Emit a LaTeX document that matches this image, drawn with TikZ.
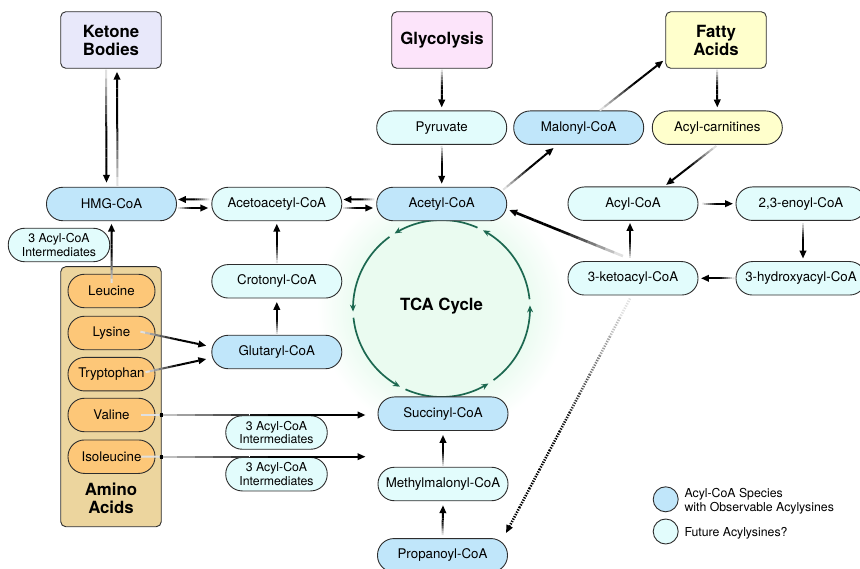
\documentclass[tikz,border=0pt]{standalone}
\usepackage{fontspec}
\setmainfont{TeX Gyre Heros}
\usetikzlibrary{calc,arrows.meta}
\definecolor{bord}{RGB}{45,45,45}
\definecolor{obs}{RGB}{192,230,250}
\definecolor{fut}{RGB}{226,252,252}
\definecolor{orng}{RGB}{253,199,120}
\definecolor{tanc}{RGB}{236,213,158}
\definecolor{lav}{RGB}{232,232,250}
\definecolor{pinkc}{RGB}{252,228,250}
\definecolor{yel}{RGB}{255,255,204}
\definecolor{tcag}{RGB}{28,104,80}
\definecolor{mint}{RGB}{234,251,240}
\pgfdeclareradialshading{glow}{\pgfpoint{0bp}{0bp}}{color(0bp)=(mint); color(17bp)=(mint); color(25bp)=(white); color(50bp)=(white)}
\tikzset{
  every node/.style={font=\fontsize{13.3}{15}\selectfont, text=black},
  pill/.style={draw=bord, line width=0.9pt, rounded corners=16.5pt, minimum width=130pt, minimum height=33.5pt, inner sep=0pt},
  obsn/.style={pill, fill=obs},
  futn/.style={pill, fill=fut},
  interm/.style={pill, fill=fut, minimum width=101.5pt, align=center, font=\fontsize{12.3}{13.6}\selectfont},
  amino/.style={pill, fill=orng, minimum width=87pt},
  bigbox/.style={draw=bord, line width=0.9pt, rounded corners=5pt, minimum width=100.5pt, minimum height=56.5pt, align=center, inner sep=0pt, font=\fontsize{16.8}{18}\selectfont\bfseries},
  garrline/.style={line width=2pt},
  dotline/.style={line width=2.6pt, dash pattern=on 1.3pt off 1.3pt},
  tca/.style={draw=tcag, line width=1.7pt, -{Stealth[length=7pt,width=6pt]}},
  legtext/.style={anchor=west, align=left, font=\fontsize{12.3}{13.5}\selectfont}
}
\newcommand\garr[3][]{%
  \path (#2) coordinate (gS) (#3) coordinate (gT);
  \coordinate (gE) at ($(gT)!8pt!(gS)$);
  \foreach \k in {0,...,11}{%
    \pgfmathtruncatemacro\pc{min(100,12+160*\k/12)}%
    \draw[garrline,#1,black!\pc] ($(gS)!\k/12!(gE)$) -- ($(gS)!\k/12+1/12!(gE)$);
  }%
  \draw[garrline,#1,solid,black,-{Triangle[length=8pt,width=6.5pt]}] (gE) -- (gT);
}
\begin{document}
\begin{tikzpicture}[x=1pt,y=-1pt]
\useasboundingbox (0,0) rectangle (860,569);
% glow of TCA cycle
\shade[shading=glow] (441.5,308.5) circle[radius=125pt];
% amino acid box
\node[draw=bord, line width=0.9pt, fill=tanc, rounded corners=5pt, minimum width=100.5pt, minimum height=260pt, inner sep=0pt] (aa) at (111,396.7) {};
% TCA arcs
\foreach \a in {6,66,126,186,246,306}{
  \draw[tca] plot[domain=\a:\a+56, samples=25, smooth] ({441.5+88.5*cos(\x)},{308.5-88.5*sin(\x)});
}
\node[font=\fontsize{16.8}{18}\selectfont\bfseries] (tcal) at (441.5,306) {TCA Cycle};
% top boxes
\node[bigbox, fill=lav] (kb) at (111,40) {Ketone\\Bodies};
\node[bigbox, fill=pinkc] (gly) at (442,40) {Glycolysis};
\node[bigbox, fill=yel] (fa) at (716,40) {Fatty\\Acids};
% row 2
\node[futn] (pyr) at (441.7,127.7) {Pyruvate};
\node[obsn] (mal) at (578.7,127.7) {Malonyl-CoA};
\node[pill, fill=yel] (acn) at (717.3,127.7) {Acyl-carnitines};
% row 3
\node[obsn] (hmg) at (111.5,204) {HMG-CoA};
\node[futn] (aca) at (276.8,204) {Acetoacetyl-CoA};
\node[obsn] (acet) at (441.7,204) {Acetyl-CoA};
\node[futn] (acyl) at (633,203.7) {Acyl-CoA};
\node[futn] (enoyl) at (801,203.7) {2,3-enoyl-CoA};
% right lower
\node[futn] (keto) at (633,278.3) {3-ketoacyl-CoA};
\node[futn] (hyd) at (801,278.3) {3-hydroxyacyl-CoA};
% left
\node[interm] (int1) at (59,245) {3 Acyl-CoA\\Intermediates};
\node[futn] (crot) at (276.8,281.3) {Crotonyl-CoA};
\node[obsn] (glu) at (276.8,352) {Glutaryl-CoA};
\node[amino] (leu) at (111.5,291) {Leucine};
\node[amino] (lys) at (111.5,333) {Lysine};
\node[amino] (try) at (111.5,374.2) {Tryptophan};
\node[amino] (val) at (111.5,415) {Valine};
\node[amino] (ile) at (111.5,456.7) {Isoleucine};
\node[align=center, font=\fontsize{16.8}{18}\selectfont\bfseries] (aal) at (111,498) {Amino\\Acids};
\node[interm] (int2) at (276.5,432.5) {3 Acyl-CoA\\Intermediates};
\node[interm] (int3) at (276.5,474.2) {3 Acyl-CoA\\Intermediates};
% bottom centre
\node[obsn] (suc) at (443,413.7) {Succinyl-CoA};
\node[futn] (meth) at (443,484) {Methylmalonyl-CoA};
\node[obsn] (prop) at (442.5,555.3) {Propanoyl-CoA};
% legend
\node[draw=bord, line width=0.9pt, fill=obs, circle, minimum size=25pt, inner sep=0pt] (lg1) at (665.7,499.3) {};
\node[draw=bord, line width=0.9pt, fill=fut, circle, minimum size=25pt, inner sep=0pt] (lg2) at (665.7,531.5) {};
\node[legtext] (lt1) at (681,501) {Acyl-CoA Species\\with Observable Acylysines};
\node[legtext] (lt2) at (681,533.5) {Future Acylysines?};
% connectors
\garr{$(kb.south)+(-5,1)$}{$(hmg.north)+(-5,-4)$}
\garr{$(hmg.north)+(6,-1)$}{$(kb.south)+(6,3)$}
\garr{$(gly.south)+(0,1)$}{$(pyr.north)+(0,-3)$}
\garr{$(pyr.south)+(0,1)$}{$(acet.north)+(0,-3)$}
\garr{$(acet.north east)+(-4,3)$}{$(mal.south)+(-25,3)$}
\garr{$(mal.north)+(21,0)$}{$(fa.south west)+(-2,-8)$}
\garr{$(fa.south)+(1,1)$}{$(acn.north)+(0,-3)$}
\garr{$(acn.south)+(-1,1)$}{$(acyl.north)+(33,-1.5)$}
\garr{$(acyl.east)+(4,0)$}{$(enoyl.west)+(-2.5,0)$}
\garr{$(enoyl.south)+(2,2)$}{$(hyd.north)+(2,-2.5)$}
\garr{$(hyd.west)+(-1,0)$}{$(keto.east)+(2.5,0)$}
\garr{$(keto.north)+(-3,-3)$}{$(acyl.south)+(-3,2)$}
\garr[line width=2.6pt]{$(keto.north)+(-10,-5)$}{$(acet.east)+(2,6)$}
\garr{$(aca.west)+(-2,-4.5)$}{$(hmg.east)+(1,-4.5)$}
\garr{$(hmg.east)+(1,4)$}{$(aca.west)+(-3,4)$}
\garr{$(acet.west)+(-2,-4.5)$}{$(aca.east)+(1,-4.5)$}
\garr{$(aca.east)+(1,4)$}{$(acet.west)+(-3,4)$}
\garr{$(crot.north)+(0,-1)$}{$(aca.south)+(0,2.5)$}
\garr{$(glu.north)+(0,-1)$}{$(crot.south)+(0,3.4)$}
\garr{$(leu.north)+(0,9)$}{$(hmg.south)+(0,2.5)$}
\garr{$(lys.east)+(-15,-1.3)$}{$(glu.west)+(-5,-6.3)$}
\garr{$(try.east)+(-10,-2)$}{$(glu.west)+(-5,7)$}
\coordinate (vE) at ($(suc.west)+(-12,0)$);
\garr{$(val.east)+(-14,0)$}{vE |- val.east}
\garr{$(ile.east)+(-14,0)$}{vE |- ile.east}
\fill ($(aa.east |- val.east)+(-1.5,-2.2)$) rectangle ++(3,4.4);
\fill ($(aa.east |- ile.east)+(-1.5,-2.2)$) rectangle ++(3,4.4);
\garr{$(meth.north)+(0,-1)$}{$(suc.south)+(0,4)$}
\garr{$(prop.north)+(0,-3)$}{$(meth.south)+(0,4)$}
\garr[dotline]{$(keto.south)+(-3,3)$}{$(prop.north east)+(-2,-5)$}
\end{tikzpicture}
\end{document}
